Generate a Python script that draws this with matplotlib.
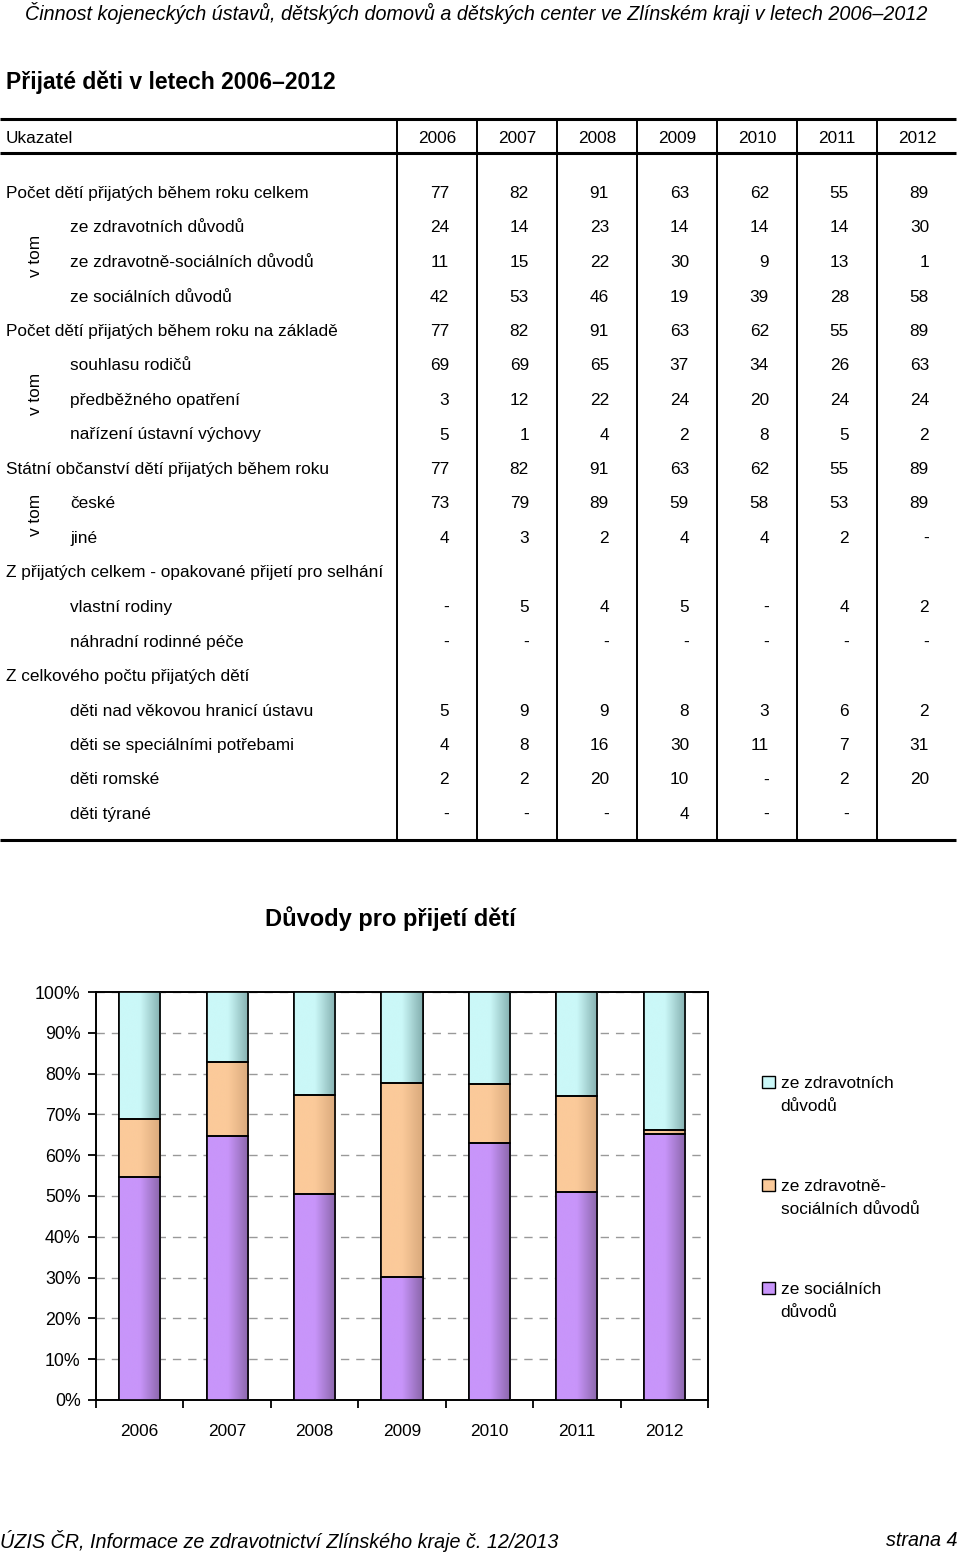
import numpy as np
import matplotlib
matplotlib.use('Agg')
from matplotlib import pyplot as plt
from matplotlib.colors import LinearSegmentedColormap
from matplotlib.patches import Patch, Rectangle
from matplotlib.legend_handler import HandlerPatch

plt.rcParams['font.family'] = ['Liberation Sans', 'DejaVu Sans']

# Table data
years = ['2006', '2007', '2008', '2009', '2010', '2011', '2012']

celkem = [77, 82, 91, 63, 62, 55, 89]
zdravotni = [24, 14, 23, 14, 14, 14, 30]
zdrav_socialni = [11, 15, 22, 30, 9, 13, 1]
socialni = [42, 53, 46, 19, 39, 28, 58]
na_zaklade = [77, 82, 91, 63, 62, 55, 89]
souhlas = [69, 69, 65, 37, 34, 26, 63]
predbezne = [3, 12, 22, 24, 20, 24, 24]
narizeni = [5, 1, 4, 2, 8, 5, 2]
obcanstvi = [77, 82, 91, 63, 62, 55, 89]
ceske = [73, 79, 89, 59, 58, 53, 89]
jine = ['4', '3', '2', '4', '4', '2', '-']
vlastni_rodiny = ['-', '5', '4', '5', '-', '4', '2']
nahradni_pece = ['-', '-', '-', '-', '-', '-', '-']
nad_hranici = [5, 9, 9, 8, 3, 6, 2]
specialni = [4, 8, 16, 30, 11, 7, 31]
romske = ['2', '2', '20', '10', '-', '2', '20']
tyrane = ['-', '-', '-', '4', '-', '-', '']

rows = [
    ('Počet dětí přijatých během roku celkem', False, celkem),
    ('ze zdravotních důvodů', True, zdravotni),
    ('ze zdravotně-sociálních důvodů', True, zdrav_socialni),
    ('ze sociálních důvodů', True, socialni),
    ('Počet dětí přijatých během roku na základě', False, na_zaklade),
    ('souhlasu rodičů', True, souhlas),
    ('předběžného opatření', True, predbezne),
    ('nařízení ústavní výchovy', True, narizeni),
    ('Státní občanství dětí přijatých během roku', False, obcanstvi),
    ('české', True, ceske),
    ('jiné', True, jine),
    ('Z přijatých celkem - opakované přijetí pro selhání', False, None),
    ('vlastní rodiny', True, vlastni_rodiny),
    ('náhradní rodinné péče', True, nahradni_pece),
    ('Z celkového počtu přijatých dětí', False, None),
    ('děti nad věkovou hranicí ústavu', True, nad_hranici),
    ('děti se speciálními potřebami', True, specialni),
    ('děti romské', True, romske),
    ('děti týrané', True, tyrane),
]
# "v tom" brackets: (first row, last row)
vtom_groups = [(1, 3), (5, 7), (9, 10)]

# Chart data
series_labels = ['ze sociálních\ndůvodů', 'ze zdravotně-\nsociálních důvodů', 'ze zdravotních\ndůvodů']


class UpHandler(HandlerPatch):
    # square next to the first line of a two-line label
    def create_artists(self, legend, orig_handle, xdescent, ydescent, width, height, fontsize, trans):
        p = Rectangle((-xdescent, -ydescent + 9.5), width, height,
                      facecolor=orig_handle.get_facecolor(), edgecolor='black', lw=1.0, transform=trans)
        return [p]


W, H = 960, 1554
fig = plt.figure(figsize=(W / 100, H / 100), dpi=100)
bg = fig.add_axes([0, 0, 1, 1])
bg.set_xlim(0, W)
bg.set_ylim(H, 0)
bg.axis('off')

fs = 12.4
bg.text(476, 13, 'Činnost kojeneckých ústavů, dětských domovů a dětských center ve Zlínském kraji v letech 2006–2012',
        ha='center', va='center', fontsize=14.2, style='italic')
bg.text(6, 82, 'Přijaté děti v letech 2006–2012', ha='left', va='center', fontsize=16.5, fontweight='bold')

# table frame
col_left = [397 + 80 * i for i in range(7)]
for y in (119, 153, 840):
    bg.plot([0, 956], [y, y], color='black', lw=2.2, solid_capstyle='butt')
for x in col_left:
    bg.plot([x, x], [119, 840], color='black', lw=1.4)

bg.text(6, 137, 'Ukazatel', ha='left', va='center_baseline', fontsize=fs)
for x, yr in zip(col_left, years):
    bg.text(x + 40, 137, yr, ha='center', va='center_baseline', fontsize=fs)

row_y = [192 + 34.5 * i for i in range(len(rows))]
for y, (label, sub, vals) in zip(row_y, rows):
    bg.text(70 if sub else 6, y, label, ha='left', va='center_baseline', fontsize=fs)
    if vals is None:
        continue
    for x, v in zip(col_left, vals):
        bg.text(x + 52, y, str(v), ha='right', va='center_baseline', fontsize=fs)

for a, b in vtom_groups:
    bg.text(36, (row_y[a] + row_y[b]) / 2 - 5, 'v tom', ha='center', va='center', rotation=90, fontsize=fs)

bg.text(390, 919, 'Důvody pro přijetí dětí', ha='center', va='center', fontsize=17, fontweight='bold')

bg.text(0, 1541, 'ÚZIS ČR, Informace ze zdravotnictví Zlínského kraje č. 12/2013', ha='left', va='center',
        fontsize=14.2, style='italic')
bg.text(957, 1541, 'strana 4', ha='right', va='center', fontsize=14.2, style='italic')

# stacked percentage chart
ax = fig.add_axes([96 / W, 1 - 1400 / H, (708 - 96) / W, (1400 - 992) / H])
x = np.arange(len(years))
data = np.array([socialni, zdrav_socialni, zdravotni], dtype=float)
pct = data / data.sum(axis=0) * 100
colors = [('#c895fa', '#8a66aa'), ('#fbca9a', '#d9a97c'), ('#cbf8f8', '#84afaf')]
bottom = np.zeros(len(years))
handles = []
grad = np.linspace(0, 1, 64).reshape(1, -1)
for vals, (c0, c1), lab in zip(pct, colors, series_labels):
    bars = ax.bar(x, vals, 0.47, bottom=bottom, color=c0, edgecolor='black', lw=1.2, zorder=3)
    cmap = LinearSegmentedColormap.from_list('g', [c0, c0, c1])
    for p in bars:
        bx, by = p.get_x(), p.get_y()
        im = ax.imshow(grad, extent=[bx, bx + p.get_width(), by, by + p.get_height()],
                       cmap=cmap, aspect='auto', zorder=3.5, interpolation='bicubic')
        im.set_clip_path(p)
        ax.bar(bx + p.get_width() / 2, p.get_height(), p.get_width(), bottom=by,
               fill=False, edgecolor='black', lw=1.2, zorder=4)
    handles.append(Patch(facecolor=c0, edgecolor='black', label=lab))
    bottom += vals

ax.set_xlim(-0.5, len(years) - 0.5)
ax.set_ylim(0, 100)
ax.set_yticks(np.arange(0, 101, 10))
ax.set_yticklabels([f'{v}%' for v in range(0, 101, 10)], fontsize=12.8)
ax.set_xticks(x)
ax.set_xticklabels(years, fontsize=12.4)
ax.set_xticks(np.arange(-0.5, len(years), 1), minor=True)
ax.tick_params(axis='x', which='major', length=0, pad=17)
ax.tick_params(axis='x', which='minor', length=6, width=1.3, direction='out')
ax.tick_params(axis='y', length=6, width=1.3, pad=5)
ax.yaxis.grid(True, color='#999999', linestyle=(0, (6, 5)), lw=1.0, zorder=0)
ax.set_axisbelow(True)
for s in ax.spines.values():
    s.set_linewidth(1.4)

leg = fig.legend(handles=handles[::-1], loc='upper left', bbox_to_anchor=(762 / W, 1 - 1076 / H),
                 frameon=False, fontsize=fs, handlelength=0.78, handleheight=0.78, handletextpad=0.3,
                 labelspacing=3.75, borderpad=0, borderaxespad=0,
                 handler_map={Patch: UpHandler()})
for t in leg.get_texts():
    t.set_linespacing(1.7)

fig.savefig('out.png', dpi=100)
